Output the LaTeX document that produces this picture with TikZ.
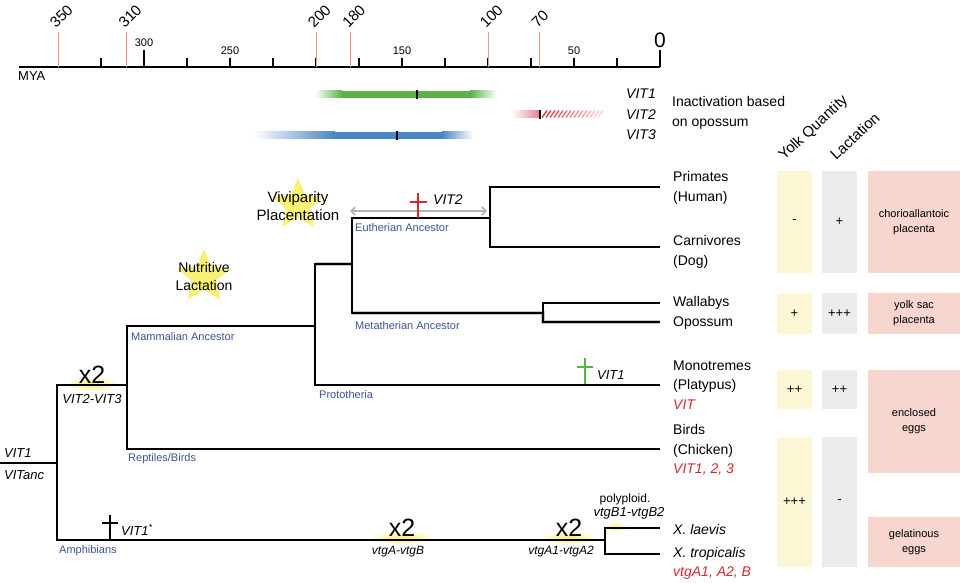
\documentclass[tikz,border=0pt]{standalone}
\usepackage{fontspec}
\setmainfont{Liberation Sans}
\usetikzlibrary{shapes.geometric,arrows.meta}
\definecolor{ancblue}{RGB}{58,84,146}
\definecolor{genered}{RGB}{208,42,50}
\definecolor{tickred}{RGB}{238,150,150}
\definecolor{barGreen}{RGB}{92,178,72}
\definecolor{barBlue}{RGB}{74,134,196}
\definecolor{barRed}{RGB}{214,70,76}
\definecolor{yolkc}{RGB}{251,246,212}
\definecolor{lactc}{RGB}{236,236,236}
\definecolor{placc}{RGB}{246,214,207}
\definecolor{starc}{RGB}{248,236,84}
\definecolor{glowc}{RGB}{250,238,100}
\begin{document}
\begin{tikzpicture}[x=1pt, y=-1pt,
  branch/.style = {line width=2.8pt, line join=miter},
  halo/.style = {line width=4pt, black!22, shift={(0,1.5)}},
  anc/.style = {anchor=west, inner sep=0, text=ancblue,
    font=\fontsize{11}{13}\selectfont},
  leaf/.style = {anchor=west, inner sep=0, align=left,
    font=\fontsize{14}{19.5}\selectfont},
  gene/.style = {inner sep=0, font=\fontsize{13}{15}\selectfont\itshape},
  redgene/.style = {gene, text=genered},
  dup/.style = {inner sep=0, font=\fontsize{25}{25}\selectfont},
  glow/.style = {inner color=glowc, outer color=white},
  loss/.style = {line width=2.8pt},
  yolkbox/.style = {fill=yolkc, minimum width=35, inner sep=0,
    font=\fontsize{13}{15}\selectfont},
  lactbox/.style = {fill=lactc, minimum width=35, inner sep=0,
    font=\fontsize{13}{15}\selectfont},
  placbox/.style = {fill=placc, minimum width=92, inner sep=0, align=center,
    font=\fontsize{11}{15}\selectfont},
  header/.style = {rotate=43, anchor=base west, inner sep=0,
    font=\fontsize{15}{16}\selectfont},
  starbox/.style = {star, star points=5, star point ratio=2.2,
    fill=starc, opacity=.8, inner sep=0},
  scalelabel/.style = {inner sep=0, font=\fontsize{11}{13}\selectfont}]
\useasboundingbox (0,0) rectangle (960,582);
\draw[line width=1.3pt] (19,67) -- (660,67);
\foreach \my in {25,50,...,325}
 \draw[line width=1.1pt] ({660-1.72*\my},67) -- ++(0,-9);
\draw[line width=1.1pt] (144,67) -- ++(0,-17);
\draw[line width=1.1pt] (660,67) -- ++(0,-17);
\foreach \my in {350,310,200,180,100,70}
{
 \draw[tickred, line width=1pt] ({660-1.72*\my},67) -- ++(0,-35);
 \node[rotate=45, anchor=base west, inner sep=0,
   font=\fontsize{15}{15}\selectfont] at ({660-1.72*\my-2},29) {\my};
}
\node[scalelabel] (s300) at (144,43) {300};
\node[scalelabel] (s250) at (230,51) {250};
\node[scalelabel] (s150) at (402,51) {150};
\node[scalelabel] (s50) at (574,51) {50};
\node[inner sep=0, font=\fontsize{21}{21}\selectfont] (s0) at (660,40) {0};
\node[anchor=west, inner sep=0, font=\fontsize{13}{15}\selectfont] (mya) at (18,76) {MYA};
\shade[left color=white, right color=barGreen] (315,90.5) rectangle (342,97.5);
\fill[barGreen] (342,90.5) rectangle (470,97.5);
\shade[left color=barGreen, right color=white] (470,90.5) rectangle (497,97.5);
\draw[line width=1.2pt] (417,89.5) -- (417,98.5);
\shade[left color=white, right color=barRed!70] (512,110.5) rectangle (540,117.5);
\foreach \k in {0,...,14}
 \draw[barRed, line width=1.5pt, opacity={1-\k/18}] ({542+4*\k},117.5) -- ++(5,-7);
\draw[line width=1.2pt] (540,109.5) -- (540,118.5);
\shade[left color=white, right color=barBlue] (253,131.5) rectangle (335,138.5);
\fill[barBlue] (335,131.5) rectangle (442,138.5);
\shade[left color=barBlue, right color=white] (442,131.5) rectangle (473,138.5);
\draw[line width=1.2pt] (397,130.5) -- (397,139.5);
\node[gene, anchor=east, font=\fontsize{14}{16}\selectfont\itshape] (inVIT1) at (656,94) {VIT1};
\node[gene, anchor=east, font=\fontsize{14}{16}\selectfont\itshape] (inVIT2) at (656,115) {VIT2};
\node[gene, anchor=east, font=\fontsize{14}{16}\selectfont\itshape] (inVIT3) at (656,135) {VIT3};
\node[leaf] (inact) at (672,113) {Inactivation based\\on opossum};
\node[header] (hYolk) at (784,161) {Yolk Quantity};
\node[header] (hLact) at (836,161) {Lactation};
\node[yolkbox, minimum height=102] (y1) at (794.5,222) {-};
\node[yolkbox, minimum height=41] (y2) at (794.5,313.5) {+};
\node[yolkbox, minimum height=39] (y3) at (794.5,389.5) {++};
\node[yolkbox, minimum height=130] (y4) at (794.5,502) {+++};
\node[lactbox, minimum height=102] (l1) at (839.5,222) {+};
\node[lactbox, minimum height=41] (l2) at (839.5,313.5) {+++};
\node[lactbox, minimum height=39] (l3) at (839.5,389.5) {++};
\node[lactbox, minimum height=130] (l4) at (839.5,502) {-};
\node[placbox, minimum height=102] (p1) at (914,222) {chorioallantoic\\placenta};
\node[placbox, minimum height=41] (p2) at (914,313.5) {yolk sac\\placenta};
\node[placbox, minimum height=103] (p3) at (914,421.5) {enclosed\\eggs};
\node[placbox, minimum height=50] (p4) at (914,542) {gelatinous\\eggs};
\node[starbox, minimum size=56] (starNut) at (204,277) {};
\node[starbox, minimum size=54] (starViv) at (298,205) {};
\node[inner sep=0, align=center, font=\fontsize{14}{18}\selectfont] (nut) at (204,276) {Nutritive\\Lactation};
\node[inner sep=0, align=center, font=\fontsize{15}{18}\selectfont] (viv) at (298,206) {Viviparity\\Placentation};
\shade[glow] (92,384) ellipse (27 and 7);
\shade[glow] (402,538) ellipse (34 and 7);
\shade[glow] (569,538) ellipse (30 and 7);
\shade[glow] (616,527) ellipse (12 and 5);
\coordinate (root) at (0,463);
\coordinate (tetra) at (57,463);
\coordinate (amnio) at (127,385);
\coordinate (mamm) at (315,326);
\coordinate (theria) at (352,264);
\coordinate (euth) at (490,218);
\coordinate (meta) at (543,313);
\coordinate (xeno) at (605,540);
\coordinate (human) at (660,187);
\coordinate (dog) at (660,247);
\coordinate (wallaby) at (660,303);
\coordinate (opossum) at (660,322);
\coordinate (platypus) at (660,385);
\coordinate (chicken) at (660,449);
\coordinate (laevis) at (660,528);
\coordinate (tropicalis) at (660,554);
\draw[halo] (mamm |- theria) -- (theria);
\draw[halo] (theria |- meta) -- (meta) |- (opossum);
\draw[branch] (root) -- (tetra);
\draw[branch] (tetra) |- (amnio);
\draw[branch] (tetra) |- (xeno);
\draw[branch] (amnio) |- (mamm);
\draw[branch] (amnio) |- (chicken);
\draw[branch] (mamm) |- (theria);
\draw[branch] (mamm) |- (platypus);
\draw[branch] (theria) |- (euth);
\draw[branch] (theria) |- (meta);
\draw[branch] (euth) |- (human);
\draw[branch] (euth) |- (dog);
\draw[branch] (meta) |- (wallaby);
\draw[branch] (meta) |- (opossum);
\draw[branch] (xeno) |- (laevis);
\draw[branch] (xeno) |- (tropicalis);
\node[leaf] (lbHuman) at (673,188) {Primates\\(Human)};
\node[leaf] (lbDog) at (673,252) {Carnivores\\(Dog)};
\node[leaf] (lbWallaby) at (673,303) {Wallabys};
\node[leaf] (lbOpossum) at (673,323) {Opossum};
\node[leaf] (lbPlatypus) at (673,385) {Monotremes\\(Platypus)\\{\color{genered}\itshape VIT}};
\node[leaf] (lbChicken) at (673,450) {Birds\\(Chicken)\\{\color{genered}\itshape VIT1, 2, 3}};
\node[leaf] (lbLaevis) at (673,529) {\itshape X. laevis};
\node[leaf] (lbTrop) at (673,554) {\itshape X. tropicalis};
\node[redgene, anchor=west, font=\fontsize{14}{16}\selectfont\itshape] (lbVtg) at (673,573) {vtgA1, A2, B};
\node[anc] (aMam) at (131,337) {Mammalian Ancestor};
\node[anc] (aRep) at (128,459) {Reptiles/Birds};
\node[anc] (aProto) at (319,395) {Prototheria};
\node[anc] (aEuth) at (355,228) {Eutherian Ancestor};
\node[anc] (aMeta) at (355,326) {Metatherian Ancestor};
\node[anc] (aAmph) at (59,551) {Amphibians};
\node[gene, anchor=west] (gRoot1) at (4,453) {VIT1};
\node[gene, anchor=west] (gRoot2) at (4,475) {VITanc};
\node[dup] (dup1) at (92,375) {x2};
\node[gene] (gDup1) at (92,399) {VIT2-VIT3};
\node[dup] (dup2) at (402,528) {x2};
\node[gene, font=\fontsize{12}{14}\selectfont\itshape] (gDup2) at (398,552) {vtgA-vtgB};
\node[dup] (dup3) at (569,528) {x2};
\node[gene, font=\fontsize{12}{14}\selectfont\itshape] (gDup3) at (561,552) {vtgA1-vtgA2};
\node[inner sep=0, font=\fontsize{12}{14}\selectfont] (poly) at (625,499) {polyploid.};
\node[gene] (gPoly) at (629,513) {vtgB1-vtgB2};
\coordinate (arL) at (350,211);
\coordinate (arR) at (487,211);
\draw[black!30, line width=1.6pt, {Straight Barb[length=4pt]}-{Straight Barb[length=4pt]}] (arL) -- (arR);
\draw[loss, color=genered] (418,193) -- (418,218);
\draw[loss, color=genered] (410,202) -- (427,202);
\node[gene, anchor=west, font=\fontsize{14}{16}\selectfont\itshape] (gLoss2) at (433,200) {VIT2};
\draw[loss, color=barGreen] (585,358) -- (585,384);
\draw[loss, color=barGreen] (577,367) -- (593,367);
\node[gene, anchor=west] (gLoss1) at (597,375) {VIT1};
\draw[loss] (110,515) -- (110,540);
\draw[loss] (102,523) -- (118,523);
\node[gene, anchor=west] (gLoss3) at (121,530) {VIT1\textsuperscript{*}};
\end{tikzpicture}
\end{document}
